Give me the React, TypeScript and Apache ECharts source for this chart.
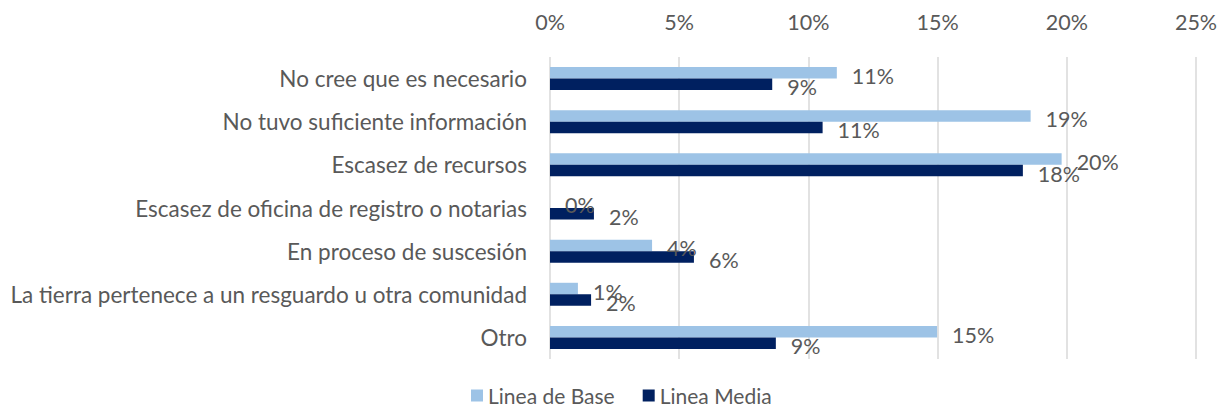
import React, { useEffect, useRef } from "react";
import * as echarts from "echarts";

const categories = [
  "No cree que es necesario",
  "No tuvo suficiente información",
  "Escasez de recursos",
  "Escasez de oficina de registro o notarias",
  "En proceso de suscesión",
  "La tierra pertenece a un resguardo u otra comunidad",
  "Otro",
];
const lineaBase = [11.1, 18.6, 19.8, 0, 3.95, 1.08, 14.98];
const lineaMedia = [8.6, 10.55, 18.3, 1.7, 5.57, 1.59, 8.74];
const xTicks = [0, 5, 10, 15, 20, 25];

const FONT = "Lato";
const TEXT = "#595959";
const FS = 21.5;

export default function App() {
  const ref = useRef<HTMLDivElement>(null);
  useEffect(() => {
    if (!ref.current) return;
    const chart = echarts.init(ref.current, null, { renderer: "svg" });
    const labelCfg = {
      show: true,
      position: "right" as const,
      distance: 15,
      offset: [0, 3],
      color: TEXT,
      fontFamily: FONT,
      fontSize: FS,
      formatter: (p: any) => Math.round(p.value) + "%",
    };
    chart.setOption({
      animation: false,
      textStyle: { fontFamily: FONT },
      legend: {
        left: 466,
        top: 380,
        itemWidth: 12,
        itemHeight: 12,
        itemGap: 28,
        icon: "rect",
        textStyle: { color: TEXT, fontSize: 21, fontFamily: FONT, lineHeight: 20 },
        data: ["Linea de Base", "Linea Media"],
      },
      grid: { left: 550, right: 25, top: 57, height: 302, containLabel: false },
      xAxis: {
        type: "value",
        position: "top",
        min: xTicks[0],
        max: xTicks[xTicks.length - 1],
        interval: 5,
        axisLine: { show: false },
        axisTick: { show: false },
        axisLabel: {
          color: TEXT,
          fontSize: FS,
          fontFamily: FONT,
          margin: 24,
          formatter: (v: number) => v + "%",
        },
        splitLine: { lineStyle: { color: "#d9d9d9", width: 1.5 } },
      },
      yAxis: {
        type: "category",
        inverse: true,
        data: categories,
        axisLine: { show: false },
        axisTick: { show: false },
        axisLabel: { color: TEXT, fontSize: 22.5, fontFamily: FONT, margin: 23 },
      },
      series: [
        {
          name: "Linea de Base",
          type: "bar",
          data: lineaBase,
          barWidth: 11.5,
          barGap: "0%",
          itemStyle: { color: "#9DC3E6" },
          label: labelCfg,
        },
        {
          name: "Linea Media",
          type: "bar",
          data: lineaMedia,
          barWidth: 11.5,
          barGap: "0%",
          itemStyle: { color: "#002060" },
          label: labelCfg,
        },
      ],
    });
    return () => chart.dispose();
  }, []);
  return (
    <div
      ref={ref}
      style={{ position: "absolute", left: 0, top: 0, width: 1221, height: 409 }}
    />
  );
}
